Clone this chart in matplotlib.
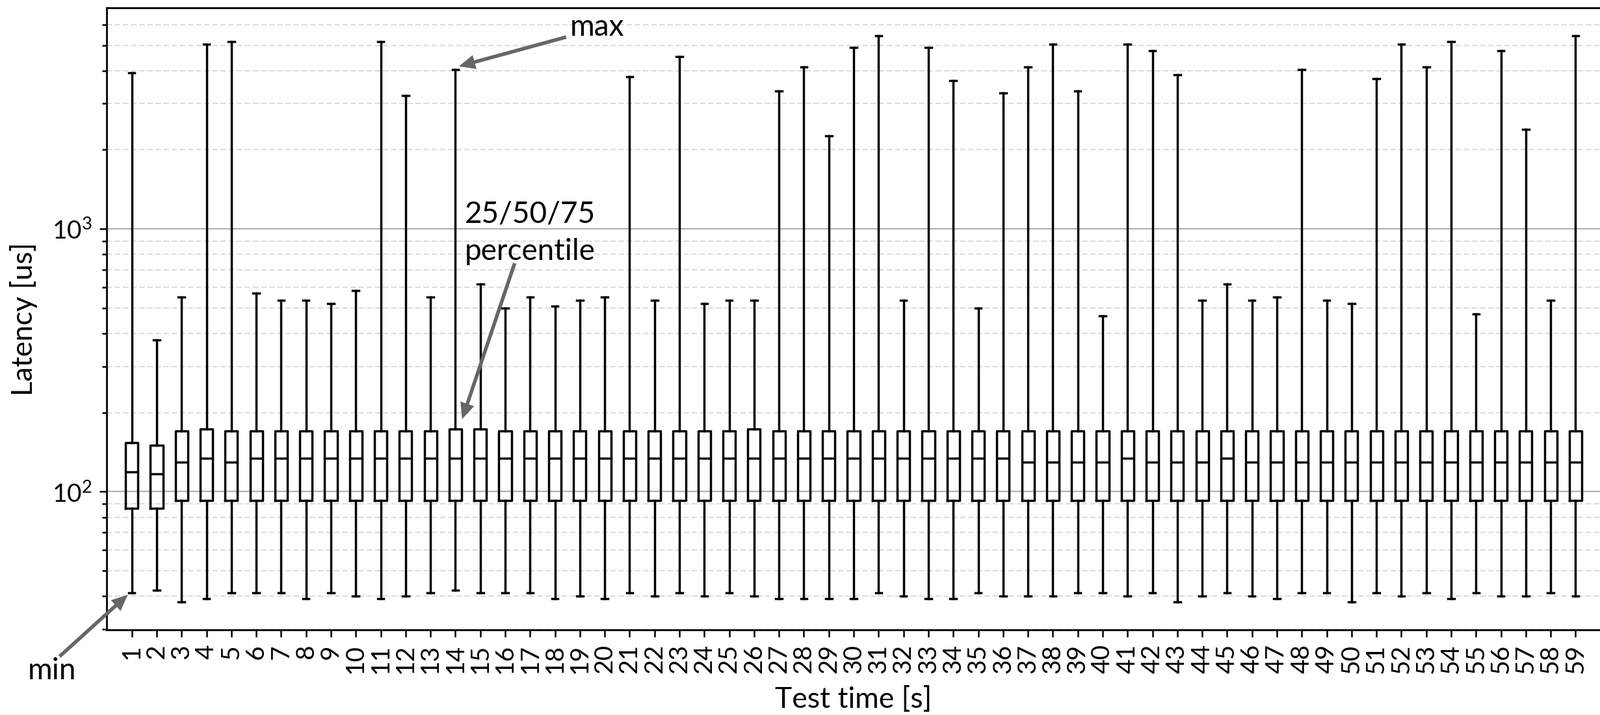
import matplotlib
matplotlib.use("Agg")
import matplotlib.pyplot as plt

# per-second latency stats (us)
seconds = list(range(1, 60))
lat_min = [41.2, 42.1, 38.1, 39.1, 41.2, 41.2, 41.2, 39.1, 41.2, 40.1,
           39.1, 40.1, 41.2, 42.1, 41.2, 41.2, 41.2, 39.1, 40.1, 39.1,
           41.2, 40.1, 41.2, 40.1, 41.2, 40.1, 39.1, 39.1, 39.1, 39.1,
           41.2, 40.1, 39.1, 39.1, 41.2, 40.1, 40.1, 40.1, 41.2, 41.2,
           40.1, 41.2, 38.1, 40.1, 41.2, 40.1, 39.1, 41.2, 41.2, 38.1,
           41.2, 40.1, 41.2, 39.1, 41.2, 40.1, 40.1, 41.2, 40.1]
lat_q1 = [86.6, 86.6] + [92.4] * 57
lat_med = [118.7, 116.6, 129.6, 134.1, 129.6] + [134.1] * 31 + \
          [129.6] * 4 + [134.1] + [129.6] * 3 + [134.1] + [129.6] * 14
lat_q3 = [153.9, 150.2, 170.1, 173.4, 170.1, 170.1, 170.1, 170.1, 170.1, 170.1,
          170.1, 170.1, 170.1, 173.4, 173.4, 170.1, 170.1, 170.1, 170.1, 170.1,
          170.1, 170.1, 170.1, 170.1, 170.1, 173.4] + [170.1] * 33
lat_max = [3921, 379, 551, 5043, 5166, 568, 535, 535, 519, 583,
           5166, 3224, 551, 4048, 616, 500, 551, 507, 535, 551,
           3790, 535, 4519, 519, 535, 535, 3342, 4140, 2264, 4913,
           5419, 535, 4913, 3664, 500, 3283, 4140, 5034, 3342, 467,
           5034, 4778, 3852, 535, 616, 535, 551, 4048, 535, 519,
           3729, 5034, 4140, 5166, 476, 4778, 2394, 535, 5419]

plt.rcParams['font.family'] = 'Lato'
plt.rcParams['mathtext.fontset'] = 'custom'
plt.rcParams['mathtext.rm'] = 'Lato'
plt.rcParams['mathtext.default'] = 'regular'

fig = plt.figure(figsize=(24.61, 11.0), dpi=100)
ax = fig.add_axes([0.0668, 0.1191, 0.9335, 0.8697])

stats = []
for i in range(len(seconds)):
    stats.append(dict(whislo=lat_min[i], q1=lat_q1[i], med=lat_med[i],
                      q3=lat_q3[i], whishi=lat_max[i], fliers=[]))

lw = 2.5
ax.bxp(stats, positions=seconds, widths=0.5, showfliers=False,
       boxprops=dict(color='black', linewidth=lw),
       whiskerprops=dict(color='black', linewidth=lw),
       capprops=dict(color='black', linewidth=lw),
       medianprops=dict(color='black', linewidth=lw))

ax.set_yscale('log')
ax.set_ylim(29.8, 6930)
ax.set_xlim(0, 60)
ax.set_xticks(seconds)
ax.set_xticklabels([str(s) for s in seconds], rotation=90)

ax.set_axisbelow(True)
ax.yaxis.grid(True, which='major', color='#b0b0b0', linewidth=1.5, linestyle='-')
ax.yaxis.grid(True, which='minor', color='#dddddd', linewidth=1.5, linestyle=(0, (4, 2)))
ax.xaxis.grid(False)

for sp in ax.spines.values():
    sp.set_linewidth(2)
ax.tick_params(axis='both', which='major', length=8, width=1.8, labelsize=28, pad=8)
ax.tick_params(axis='y', which='minor', length=5, width=1.8)
ax.tick_params(axis='x', which='minor', bottom=False)

ax.set_xlabel('Test time [s]', fontsize=32, labelpad=14)
ax.set_ylabel('Latency [us]', fontsize=32, labelpad=16)

arrow = dict(facecolor='#666666', edgecolor='none', width=4,
             headwidth=16, headlength=18, shrink=0)
ax.annotate('', xy=(14.14, 4157), xytext=(18.45, 5373), arrowprops=arrow,
            annotation_clip=False)
ax.text(18.6, 5433, 'max', fontsize=33, ha='left', va='baseline')

ax.annotate('', xy=(14.27, 188.7), xytext=(16.38, 740), arrowprops=arrow,
            annotation_clip=False)
ax.text(19.62, 1054, '25/50/75', fontsize=33, ha='right', va='baseline')
ax.text(19.62, 762, 'percentile', fontsize=33, ha='right', va='baseline')

ax.annotate('', xy=(0.84, 40.55), xytext=(-1.9, 23.6), arrowprops=arrow,
            annotation_clip=False)
ax.text(-2.21, 19.34, 'min', fontsize=33, ha='center', va='baseline', clip_on=False)

fig.savefig('out.png', dpi=100)
